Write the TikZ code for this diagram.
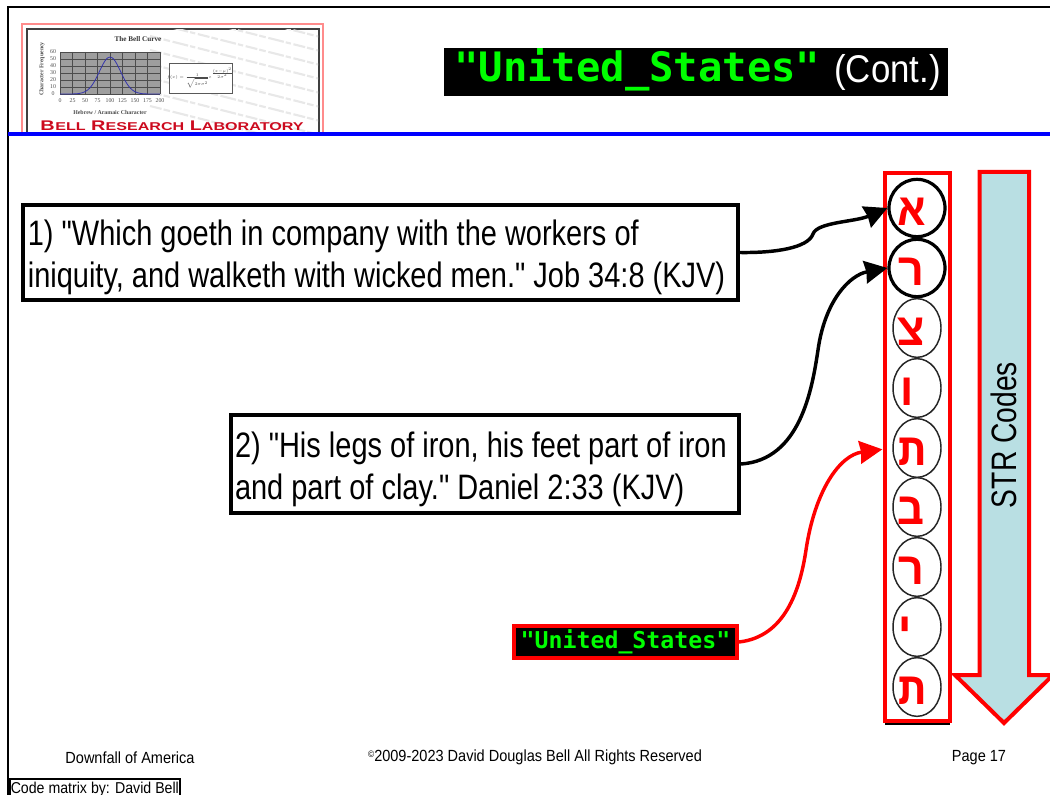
\documentclass[tikz,border=0pt]{standalone}
\usepackage{fontspec}
\usetikzlibrary{arrows.meta,shapes.geometric}
\setmainfont{Liberation Sans}
\newfontfamily\bodyfont[FakeStretch=0.82]{Liberation Sans}
\newfontfamily\strfont[FakeStretch=0.8]{Liberation Sans}
\newfontfamily\titlefont[FakeStretch=0.9]{Liberation Sans}
\newfontfamily\smallfont[FakeStretch=0.9]{Liberation Sans}
\newfontfamily\codefont{DejaVu Sans Mono}
\newfontfamily\hebfont[Script=Hebrew]{Liberation Mono}
\newfontfamily\labfont[FakeStretch=1.42]{Liberation Sans}
\newfontfamily\logofont{Liberation Serif}
\TeXXeTstate=1
\definecolor{termgreen}{RGB}{0,255,0}
\definecolor{arrowfill}{RGB}{185,223,227}
\definecolor{labred}{RGB}{204,10,30}
\newcommand{\firstlift}{\rule{0pt}{27pt}}
\tikzset{
  bodybox/.style={draw=black,line width=3pt,fill=white,align=flush left,inner sep=0pt,font=\bodyfont\fontsize{26.5}{31.5}\selectfont},
  plainring/.style={ellipse,draw=black!85,line width=1.1pt,minimum width=36pt,minimum height=44pt,inner sep=0pt},
  boldring/.style={ellipse,draw=black,line width=2.4pt,minimum width=42pt,minimum height=43pt,inner sep=0pt},
  heb/.style={text=red,anchor=base,inner sep=0pt,font=\hebfont\bfseries\fontsize{34}{34}\selectfont},
  link/.style={line width=2.6pt,-{Stealth[length=17pt,width=17pt,inset=1pt]}},
  footer/.style={inner sep=0pt,font=\smallfont\fontsize{12.1}{13}\selectfont},
  logotiny/.style={inner sep=0pt,text=black!70,font=\logofont\fontsize{4.4}{4.4}\selectfont},
  texture/.style={black!9,line width=1.6pt,dash pattern=on 9pt off 1.5pt on 5pt off 2pt on 12pt off 1.5pt on 4pt off 2pt}
}
\begin{document}
\begin{tikzpicture}[x=0.75pt,y=-0.75pt]
\useasboundingbox (0,0) rectangle (1050,795);
% slide frame
\draw[line width=1.6pt,black] (8,796) -- (8,7) -- (1051,7);
% logo
\draw[draw=red!45,line width=1pt] (22,134) -- (22,24) -- (323,24) -- (323,134);
\draw[draw=black!75,line width=1.2pt] (27,134) -- (27,29) -- (319,29) -- (319,134);
\begin{scope}
\clip (28,30) rectangle (318,134);
\foreach \yy in {-20,-6,8,22,36,50,64,78,92,106}{
  \draw[texture] (150,\yy) -- (340,{\yy+48});
}
\end{scope}
\node[inner sep=0pt,font=\logofont\bfseries\fontsize{5.4}{5.4}\selectfont,text=black!80] at (138,39) {The Bell Curve};
\node[logotiny,rotate=90,font=\logofont\bfseries\fontsize{4.4}{4.4}\selectfont] at (42,69) {Character Frequency};
\fill[black!38] (60,52) rectangle (160,94);
\foreach \xx in {60,72.5,85,97.5,110,122.5,135,147.5,160}{\draw[black!70,line width=.6pt] (\xx,52) -- (\xx,94);}
\foreach \yy in {52,59,66,73,80,87,94}{\draw[black!70,line width=.6pt] (60,\yy) -- (160,\yy);}
\draw[blue!60!black!80,line width=.6pt] plot[smooth,samples=41,domain=60:160] (\x,{94-37*exp(-((\x-110)/15)^2)});
\foreach \yy/\ll in {94/0,87/10,80/20,73/30,66/40,59/50,52/60}{\node[logotiny] at (53,\yy) {\ll};}
\foreach \xx/\ll in {60/0,72.5/25,85/50,97.5/75,110/100,122.5/125,135/150,147.5/175,160/200}{\node[logotiny] at (\xx,101) {\ll};}
\node[logotiny,font=\logofont\bfseries\fontsize{4.4}{4.4}\selectfont] at (110,112) {Hebrew / Aramaic Character};
\draw[black!65,fill=white,line width=.6pt] (169,63) rectangle (232,93);
\node[logotiny,scale=.62] at (200,78) {$f(x)=\frac{1}{\sqrt{2\pi\sigma^2}}e^{\frac{(x-\mu)^2}{2\sigma^2}}$};
\node[anchor=base,inner sep=0pt,text=labred,font=\labfont\bfseries\fontsize{10.5}{10.5}\selectfont] at (172,131) {B\kern.4pt{\fontsize{8.5}{8.5}\selectfont ELL} R{\fontsize{8.5}{8.5}\selectfont ESEARCH} L{\fontsize{8.5}{8.5}\selectfont ABORATORY}};
% rule
\draw[blue,line width=2.9pt] (8,134) -- (1051,134);
% title
\node[fill=black,inner sep=0pt,minimum width=378pt,minimum height=36pt] (title) at (696,72) {};
\node[anchor=base west,inner sep=0pt,text=termgreen,font=\codefont\bfseries\fontsize{30.4}{30.4}\selectfont] (titlecode) at (454,82) {"United\_States"};
\node[anchor=base east,inner sep=0pt,text=white,font=\titlefont\fontsize{29}{30}\selectfont] (titlecont) at (941,83) {(Cont.)};
% letter column
\draw[draw=red,line width=3pt,fill=white] (885,173) rectangle (950,721);
\draw[black,line width=1.2pt] (885,724) -- (950,724);
% arrow
\draw[draw=red,line width=3pt,fill=arrowfill,line join=miter] (979.5,172) -- (1029,172) -- (1029,675) -- (1053,675) -- (1004,723) -- (955,675) -- (979.5,675) -- cycle;
\node[rotate=90,inner sep=0pt,font=\strfont\fontsize{26.5}{30}\selectfont] (str) at (1004,435) {STR Codes};
% rings
\node[plainring] (c3) at (917,328) {};
\node[plainring] (c4) at (917,388) {};
\node[plainring] (c5) at (917,448) {};
\node[plainring] (c6) at (917,507) {};
\node[plainring] (c7) at (917,567) {};
\node[plainring] (c8) at (917,627) {};
\node[plainring] (c9) at (917,687) {};
\node[boldring] (c1) at (917,208) {};
\node[boldring] (c2) at (917,268) {};
\node[heb] (l1) at (912,225) {\beginR א\endR};
\node[heb] (l2) at (911,285) {\beginR ר\endR};
\node[heb] (l3) at (911,345) {\beginR צ\endR};
\node[heb] (l4) at (907,405) {\beginR ו\endR};
\node[heb] (l5) at (912,465) {\beginR ת\endR};
\node[heb] (l6) at (911,524) {\beginR ב\endR};
\node[heb] (l7) at (911,584) {\beginR ר\endR};
\node[heb] (l8) at (905,644) {\beginR י\endR};
\node[heb] (l9) at (912,704) {\beginR ת\endR};
% boxes
\node[bodybox,minimum width=536pt,minimum height=71pt,text width=529pt] (b1) at (380.5,252.5) {\firstlift 1) "Which goeth in company with the workers of\\iniquity, and walketh with wicked men." Job 34:8 (KJV)};
\node[bodybox,minimum width=381pt,minimum height=73pt,text width=375pt] (b2) at (485,464) {\firstlift 2) "His legs of iron, his feet part of iron\\and part of clay." Daniel 2:33 (KJV)};
\node[draw=red,line width=3pt,fill=black,minimum width=167pt,minimum height=24pt,inner sep=0pt,text=termgreen,font=\codefont\bfseries\fontsize{17.4}{17.4}\selectfont] (b3) at (625.5,642) {"United\_States"};
% connectors
\draw[link] (b1.east) .. controls (775,253) and (808,248) .. (813,234) .. controls (817,222) and (855,222) .. (c1.west);
\draw[link] (b2.east) .. controls (800,460) and (812,390) .. (818,350) .. controls (825,300) and (850,275) .. (c2.west);
\draw[link,red,shorten >=7.5pt] (b3.east) .. controls (785,637) and (800,590) .. (806,550) .. controls (815,490) and (840,455) .. (c5.west);
% footer
\node[footer] (f1) at (130,757.5) {Downfall of America};
\node[footer] (f2) at (535,757.5) {\raisebox{3pt}{\fontsize{7}{7}\selectfont ©}2009-2023 David Douglas Bell All Rights Reserved};
\node[footer] (f3) at (979,757.5) {Page 17};
\begin{scope}
\clip (0,770) rectangle (1050,795);
\draw[black,line width=.8pt] (10,797) -- (10,779) -- (180,779) -- (180,797);
\node[footer,anchor=base west,font=\smallfont\fontsize{11.8}{13}\selectfont] (f4) at (10.5,793) {Code matrix by: David Bell};
\end{scope}
\end{tikzpicture}
\end{document}
